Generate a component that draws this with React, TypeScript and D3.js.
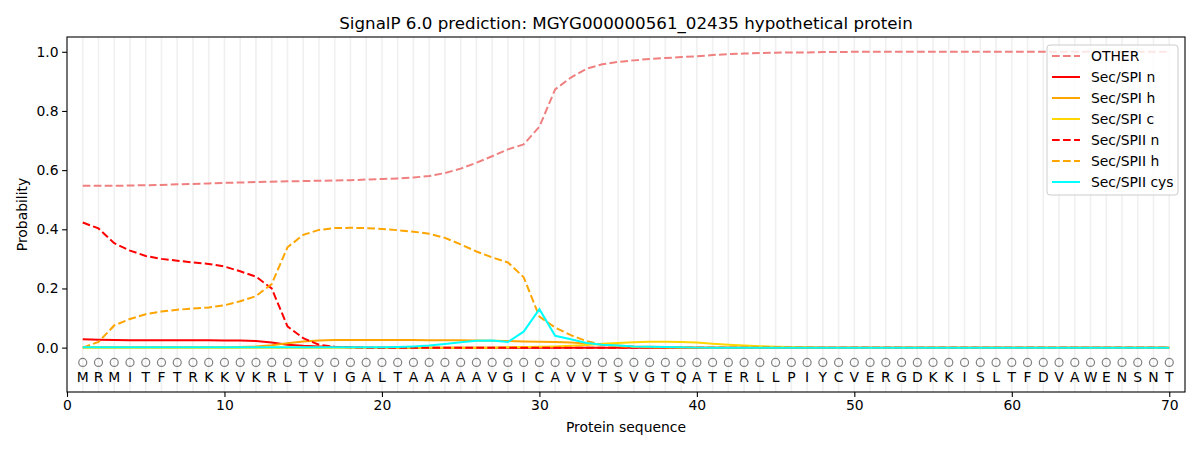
import { useEffect, useRef } from "react";
import * as d3 from "d3";

const residues = "MRMITFTRKKVKRLTVIGALTAAAAAVGICAVVTSVGTQATERLLPIYCVERGDKKISLTFDVAWENSNT".split("");

const otherProb = [
  0.547, 0.547, 0.547, 0.548, 0.549, 0.55, 0.552, 0.553, 0.555, 0.557,
  0.558, 0.56, 0.561, 0.562, 0.563, 0.564, 0.565, 0.566, 0.568, 0.57,
  0.572, 0.575, 0.58, 0.59, 0.605, 0.625, 0.647, 0.67, 0.687, 0.747,
  0.873, 0.913, 0.943, 0.958, 0.966, 0.971, 0.976, 0.979, 0.982, 0.985,
  0.989, 0.992, 0.994, 0.996, 0.997, 0.998, 0.998, 0.999, 0.999, 1.0,
  1.0, 1.0, 1.0, 1.0, 1.0, 1.0, 1.0, 1.0, 1.0, 1.0,
  1.0, 1.0, 1.0, 1.0, 1.0, 1.0, 1.0, 1.0, 1.0, 1.0,
];

const spiN = [
  0.028, 0.027, 0.026, 0.025, 0.025, 0.025, 0.025, 0.025, 0.025, 0.024,
  0.024, 0.022, 0.017, 0.01, 0.006, 0.004, 0.002, 0.001, 0, 0,
  0, 0, 0, 0, 0, 0, 0, 0, 0, 0,
  0, 0, 0, 0, 0, 0, 0, 0, 0, 0,
  0, 0, 0, 0, 0, 0, 0, 0, 0, 0,
  0, 0, 0, 0, 0, 0, 0, 0, 0, 0,
  0, 0, 0, 0, 0, 0, 0, 0, 0, 0,
];

const spiH = [
  0.001, 0.001, 0.001, 0.001, 0.001, 0.001, 0.001, 0.001, 0.001, 0.001,
  0.002, 0.004, 0.008, 0.015, 0.021, 0.024, 0.026, 0.026, 0.026, 0.026,
  0.026, 0.026, 0.025, 0.025, 0.025, 0.024, 0.023, 0.022, 0.021, 0.02,
  0.019, 0.017, 0.014, 0.01, 0.007, 0.004, 0.003, 0.002, 0.001, 0,
  0, 0, 0, 0, 0, 0, 0, 0, 0, 0,
  0, 0, 0, 0, 0, 0, 0, 0, 0, 0,
  0, 0, 0, 0, 0, 0, 0, 0, 0, 0,
];

const spiC = [
  0, 0, 0, 0, 0, 0, 0, 0, 0, 0,
  0, 0, 0, 0, 0, 0, 0, 0, 0, 0,
  0, 0, 0, 0, 0, 0, 0, 0.001, 0.002, 0.003,
  0.004, 0.006, 0.009, 0.013, 0.016, 0.018, 0.02, 0.02, 0.019, 0.017,
  0.013, 0.01, 0.007, 0.005, 0.003, 0.002, 0.001, 0, 0, 0,
  0, 0, 0, 0, 0, 0, 0, 0, 0, 0,
  0, 0, 0, 0, 0, 0, 0, 0, 0, 0,
];

const spiiN = [
  0.423, 0.403, 0.353, 0.328, 0.31, 0.3, 0.294, 0.288, 0.283, 0.274,
  0.258, 0.24, 0.2, 0.072, 0.032, 0.01, 0.003, 0.001, 0, 0,
  0, 0, 0, 0, 0, 0, 0, 0, 0, 0,
  0, 0, 0, 0, 0, 0, 0, 0, 0, 0,
  0, 0, 0, 0, 0, 0, 0, 0, 0, 0,
  0, 0, 0, 0, 0, 0, 0, 0, 0, 0,
  0, 0, 0, 0, 0, 0, 0, 0, 0, 0,
];

const spiiH = [
  0, 0.019, 0.075, 0.097, 0.113, 0.122, 0.128, 0.132, 0.136, 0.143,
  0.157, 0.174, 0.215, 0.339, 0.381, 0.398, 0.404, 0.405, 0.404, 0.401,
  0.397, 0.392, 0.385, 0.371, 0.349, 0.325, 0.305, 0.288, 0.238, 0.105,
  0.068, 0.042, 0.022, 0.01, 0.005, 0.002, 0.001, 0, 0, 0,
  0, 0, 0, 0, 0, 0, 0, 0, 0, 0,
  0, 0, 0, 0, 0, 0, 0, 0, 0, 0,
  0, 0, 0, 0, 0, 0, 0, 0, 0, 0,
];

const spiiCys = [
  0.001, 0.001, 0.001, 0.001, 0.001, 0.001, 0.001, 0.001, 0.001, 0.001,
  0.001, 0.001, 0.001, 0.001, 0.001, 0.001, 0.001, 0.001, 0.001, 0.001,
  0.002, 0.004, 0.007, 0.012, 0.018, 0.023, 0.024, 0.019, 0.054, 0.13,
  0.04, 0.028, 0.016, 0.01, 0.007, 0.004, 0.003, 0.002, 0.001, 0,
  0, 0, 0, 0, 0, 0, 0, 0, 0, 0,
  0, 0, 0, 0, 0, 0, 0, 0, 0, 0,
  0, 0, 0, 0, 0, 0, 0, 0, 0, 0,
];

const seriesLabels = ["OTHER", "Sec/SPI n", "Sec/SPI h", "Sec/SPI c", "Sec/SPII n", "Sec/SPII h", "Sec/SPII cys"];
const seriesValues = [otherProb, spiN, spiH, spiC, spiiN, spiiH, spiiCys];
const seriesColors = ["#F08080", "#FF0000", "#FFA500", "#FFD700", "#FF0000", "#FFA500", "#00FFFF"];
const seriesDashed = [true, false, false, false, true, true, false];

const xTicks = [0, 10, 20, 30, 40, 50, 60, 70];
const yTicks = [0, 0.2, 0.4, 0.6, 0.8, 1.0];

const FONT = "DejaVu Sans, sans-serif";

function SignalPChart() {
  const ref = useRef<SVGSVGElement>(null);

  useEffect(() => {
    if (!ref.current) return;
    const svg = d3.select(ref.current);
    svg.selectAll("*").remove();

    const margin = { top: 37, right: 15, bottom: 58, left: 67 };
    const width = 1200 - margin.left - margin.right;
    const height = 450 - margin.top - margin.bottom;

    const x = d3.scaleLinear().domain([0, 71]).range([0, width]);
    const y = d3.scaleLinear().domain([-0.15, 1.05]).range([height, 0]);

    svg
      .append("text")
      .attr("x", margin.left + width / 2)
      .attr("y", 29)
      .attr("text-anchor", "middle")
      .style("font-family", FONT)
      .style("font-size", "16.7px")
      .text("SignalP 6.0 prediction: MGYG000000561_02435 hypothetical protein");

    const g = svg.append("g").attr("transform", `translate(${margin.left},${margin.top})`);

    // residue grid
    g.append("g")
      .selectAll("line")
      .data(residues)
      .enter()
      .append("line")
      .attr("x1", (_, i) => x(i + 1))
      .attr("x2", (_, i) => x(i + 1))
      .attr("y1", 0)
      .attr("y2", height)
      .attr("stroke", "#f0f0f0")
      .attr("stroke-width", 1.6);

    // circles and letters
    g.append("g")
      .selectAll("circle")
      .data(residues)
      .enter()
      .append("circle")
      .attr("cx", (_, i) => x(i + 1))
      .attr("cy", y(-0.05))
      .attr("r", 4)
      .attr("fill", "none")
      .attr("stroke", "#808080")
      .attr("stroke-width", 1.2);

    g.append("g")
      .selectAll("text")
      .data(residues)
      .enter()
      .append("text")
      .attr("x", (_, i) => x(i + 1))
      .attr("y", y(-0.1))
      .attr("dy", "0.36em")
      .attr("text-anchor", "middle")
      .style("font-family", FONT)
      .style("font-size", "13.9px")
      .text((d) => d);

    const line = d3
      .line<number>()
      .x((_, i) => x(i + 1))
      .y((d) => y(d));

    seriesValues.forEach((vals, k) => {
      g.append("path")
        .datum(vals)
        .attr("fill", "none")
        .attr("stroke", seriesColors[k])
        .attr("stroke-width", 2)
        .attr("stroke-dasharray", seriesDashed[k] ? "7.7,3.3" : null)
        .attr("d", line);
    });

    // axes
    const xAxis = g
      .append("g")
      .attr("transform", `translate(0,${height})`)
      .call(d3.axisBottom(x).tickValues(xTicks).tickFormat(d3.format("d")).tickSizeOuter(0).tickSize(4.9).tickPadding(3.5));
    const yAxis = g
      .append("g")
      .call(d3.axisLeft(y).tickValues(yTicks).tickFormat(d3.format(".1f")).tickSizeOuter(0).tickSize(4.9).tickPadding(3.5));
    [xAxis, yAxis].forEach((a) => {
      a.select(".domain").remove();
      a.selectAll("line").attr("stroke", "#000").attr("stroke-width", 1.1);
      a.selectAll("text").style("font-family", FONT).style("font-size", "13.9px").attr("fill", "#000");
    });

    g.append("rect")
      .attr("width", width)
      .attr("height", height)
      .attr("fill", "none")
      .attr("stroke", "#000")
      .attr("stroke-width", 1.1);

    svg
      .append("text")
      .attr("x", margin.left + width / 2)
      .attr("y", 432)
      .attr("text-anchor", "middle")
      .style("font-family", FONT)
      .style("font-size", "13.9px")
      .text("Protein sequence");

    svg
      .append("text")
      .attr("transform", `translate(27,${margin.top + height / 2}) rotate(-90)`)
      .attr("text-anchor", "middle")
      .style("font-family", FONT)
      .style("font-size", "13.9px")
      .text("Probability");

    // legend
    const lg = svg.append("g").attr("transform", "translate(1047,45)");
    lg.append("rect")
      .attr("width", 131)
      .attr("height", 150)
      .attr("rx", 3)
      .attr("fill", "#fff")
      .attr("fill-opacity", 0.8)
      .attr("stroke", "#cccccc")
      .attr("stroke-width", 1);
    seriesLabels.forEach((label, k) => {
      const ry = 11 + k * 21;
      lg.append("line")
        .attr("x1", 5)
        .attr("x2", 33)
        .attr("y1", ry)
        .attr("y2", ry)
        .attr("stroke", seriesColors[k])
        .attr("stroke-width", 2)
        .attr("stroke-dasharray", seriesDashed[k] ? "7.7,3.3" : null);
      lg.append("text")
        .attr("x", 44)
        .attr("y", ry)
        .attr("dy", "0.36em")
        .style("font-family", FONT)
        .style("font-size", "13.9px")
        .text(label);
    });
  }, []);

  return <svg ref={ref} width={1200} height={450} style={{ display: "block" }} />;
}

export default function App() {
  return (
    <div style={{ position: "absolute", left: 0, top: 0, background: "#fff" }}>
      <SignalPChart />
    </div>
  );
}
